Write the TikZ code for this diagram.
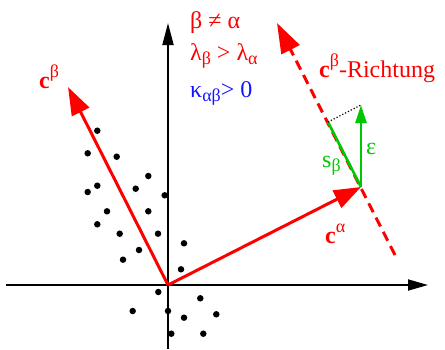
\documentclass[tikz,border=0pt]{standalone}
\usepackage{fontspec}
\setmainfont{Liberation Serif}
\usetikzlibrary{arrows.meta}
\definecolor{myred}{RGB}{255,0,0}
\definecolor{mygreen}{RGB}{0,200,0}
\definecolor{myblue}{RGB}{20,20,255}
\newcommand{\supx}[1]{\raisebox{0.42em}{\fontsize{18}{20}\selectfont #1}}
\newcommand{\subx}[1]{\raisebox{-0.2em}{\fontsize{18}{20}\selectfont #1}}
\begin{document}
\begin{tikzpicture}[x=1pt,y=-1pt,
  axis/.style={line width=1.8pt,-{Triangle[length=20pt,width=11pt]}},
  vec/.style={myred,line width=3pt,-{Triangle[length=28pt,width=19pt]}},
  gvec/.style={mygreen,line width=2.6pt},
  dot/.style={fill=black,circle,inner sep=0pt,minimum size=6.5pt},
  lbl/.style={inner sep=0pt,font=\fontsize{24}{28}\selectfont}]
\useasboundingbox (0,0) rectangle (445,349);
% coordinates
\coordinate (O) at (168,285);
\coordinate (XL) at (6,285);
\coordinate (XR) at (428,285);
\coordinate (YB) at (168,349);
\coordinate (YT) at (168,23);
\coordinate (CB) at (68,87);
\coordinate (CA) at (361,187);
\coordinate (DT) at (277,23);
\coordinate (DB) at (395,255);
\coordinate (S) at (328,122);
\coordinate (E) at (361,105);
% dots
\foreach \p [count=\i] in {(97.3,130.7),(87.7,153.3),(116.7,156.7),(148.3,176),(97.3,185.7),
  (87.7,192),(135.7,188.7),(164.7,195.3),(107,211.3),(148.3,211.3),(97.3,224.3),
  (119.7,233.7),(158,233.7),(184,243.3),(139,250),(123,259.7),(181,269.3),
  (158.3,292),(200.3,298.3),(132.7,311),(168,311),(184,317.7),(216.3,314.3),
  (171.3,333.7),(203.3,333.7)}
  \node[dot] (d\i) at \p {};
% axes
\draw[axis] (XL) -- (XR);
\draw[line width=1.8pt,-{Triangle[length=22pt,width=11pt]}] (YB) -- (YT);
% dashed c^beta direction
\draw[myred,line width=3pt,dash pattern=on 10pt off 6pt,-{Triangle[length=30pt,width=20pt]}] (DB) -- (DT);
% vectors
\draw[vec] (O) -- (CB);
\draw[vec,-{Triangle[length=27pt,width=19pt]}] (O) -- (CA);
% green
\draw[gvec] (CA) -- (S);
\draw[gvec,-{Triangle[length=18pt,width=11pt]}] (CA) -- (E);
\draw[black,line width=1.2pt,dotted] (S) -- (E);
% labels
\node[lbl,myred,anchor=base west] (lcb) at (39,88) {\textbf{c}\supx{β}};
\node[lbl,myred,anchor=base west] (lca) at (325,243) {\textbf{c}\supx{α}};
\node[lbl,myred,anchor=base west] (lrich) at (319,77) {\textbf{c}\supx{β}-Richtung};
\node[lbl,mygreen,anchor=base west] (ls) at (322,167) {s\subx{β}};
\node[lbl,mygreen,anchor=base west] (le) at (366,154) {ε};
\node[lbl,myred,anchor=base west] (t1) at (190,28) {β ≠ α};
\node[lbl,myred,anchor=base west] (t2) at (190,60) {λ\subx{β} > λ\subx{α}};
\node[lbl,myblue,anchor=base west] (t3) at (190,97) {κ\subx{αβ}> 0};
\end{tikzpicture}
\end{document}
